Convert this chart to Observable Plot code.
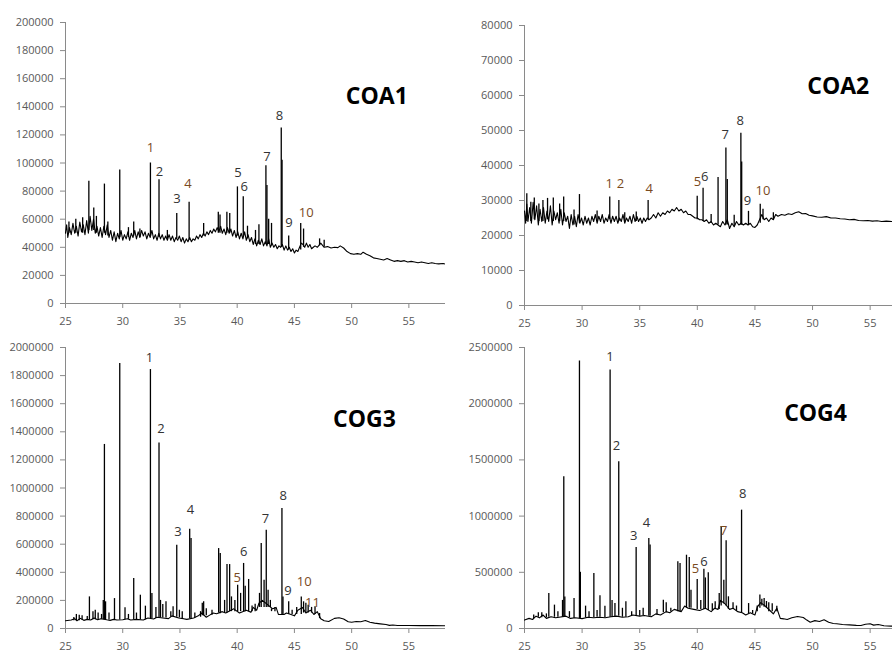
<!DOCTYPE html>
<html><head><meta charset="utf-8">
<script src="https://cdn.jsdelivr.net/npm/d3@7"></script>
<script src="https://cdn.jsdelivr.net/npm/@observablehq/plot@0.6"></script>
<style>
html,body{margin:0;padding:0;background:#fff;width:892px;height:652px;overflow:hidden;}
.panel{position:absolute;}
</style></head>
<body>
<div id="p1" class="panel" style="left:0;top:0"></div>
<div id="p2" class="panel" style="left:450px;top:0"></div>
<div id="p3" class="panel" style="left:0;top:330px"></div>
<div id="p4" class="panel" style="left:450px;top:330px"></div>
<script>
// ---------- shared ticks ----------
const xTicks = [25, 30, 35, 40, 45, 50, 55];
const coa1YTicks = [0, 20000, 40000, 60000, 80000, 100000, 120000, 140000, 160000, 180000, 200000];
const coa2YTicks = [0, 10000, 20000, 30000, 40000, 50000, 60000, 70000, 80000];
const cog3YTicks = [0, 200000, 400000, 600000, 800000, 1000000, 1200000, 1400000, 1600000, 1800000, 2000000];
const cog4YTicks = [0, 500000, 1000000, 1500000, 2000000, 2500000];

// ---------- COA1 ----------
const coa1Time = [25.0,25.1,25.2,25.35,25.5,25.65,25.8,25.95,26.1,26.25,26.4,26.55,26.7,26.85,27.0,27.15,27.3,27.45,27.6,27.75,27.9,28.05,28.2,28.35,28.5,28.65,28.8,28.95,29.1,29.25,29.4,29.55,29.7,29.85,30.0,30.15,30.3,30.45,30.6,30.75,30.9,31.05,31.2,31.35,31.5,31.65,31.8,31.95,32.1,32.25,32.4,32.55,32.7,32.85,33.0,33.15,33.3,33.45,33.6,33.75,33.9,34.05,34.2,34.35,34.5,34.65,34.8,34.95,35.1,35.25,35.4,35.55,35.7,35.85,36.0,36.15,36.3,36.45,36.6,36.75,36.9,37.05,37.2,37.35,37.5,37.65,37.8,37.95,38.1,38.25,38.4,38.55,38.7,38.85,39.0,39.15,39.3,39.45,39.6,39.75,39.9,40.05,40.2,40.35,40.5,40.65,40.8,40.95,41.1,41.25,41.4,41.55,41.7,41.85,42.0,42.15,42.3,42.45,42.6,42.75,42.9,43.05,43.2,43.35,43.5,43.65,43.8,43.95,44.1,44.25,44.4,44.55,44.7,44.85,45.0,45.15,45.3,45.45,45.6,45.75,45.9,46.05,46.2,46.35,46.5,46.65,46.8,47.0,47.3,47.6,47.9,48.2,48.5,48.8,49.0,49.3,49.6,49.9,50.2,50.5,50.8,51.0,51.3,51.6,51.9,52.2,52.5,52.8,53.1,53.4,53.7,54.0,54.3,54.6,54.9,55.2,55.5,55.8,56.1,56.4,56.7,57.0,57.3,57.6,58.0,58.2];
const coa1Signal = [50000,56000,47000,54000,49000,57000,50000,55000,48000,58000,51000,56000,49000,59000,50000,62000,52000,60000,50000,55000,48000,54000,47000,55000,49000,56000,47000,52000,45000,51000,44000,50000,46000,52000,45000,49000,46000,51000,45000,50000,47000,52000,46000,51000,47000,52000,48000,51000,46000,50000,47000,52000,46000,49000,45000,50000,46000,49000,45000,48000,45000,49000,45000,48000,44000,47000,45000,48000,44000,47000,43000,46000,44000,47000,44000,46000,45000,48000,46000,49000,47000,50000,48000,51000,49000,52000,50000,53000,51000,54000,51000,55000,50000,53000,49000,54000,50000,53000,48000,52000,47000,51000,46000,50000,46000,51000,45000,49000,44000,47000,42000,46000,41000,45000,42000,46000,41000,44000,41000,46000,40000,43000,40000,42000,39000,41000,40000,42000,38000,41000,38000,40000,37000,39000,36000,38000,37000,40000,43000,42000,40000,43000,40000,42000,39000,40000,41000,40000,43000,40000,40500,39500,40000,39800,41000,39500,37000,35500,35000,35500,35000,36500,35000,34000,32500,32000,31500,31000,32000,31000,30000,30500,30000,30500,29500,30000,29500,29000,29500,29000,28500,29000,28500,28200,28500,28000];
const coa1PeakTime = [25.3,25.9,26.5,27.04,27.47,27.7,28.4,28.7,29.74,30.5,30.96,31.5,32.42,33.17,33.9,34.72,35.8,37.07,38.35,38.5,39.1,39.35,40.02,40.53,40.9,41.6,41.9,42.51,42.6,42.75,43.0,43.85,43.92,44.5,45.55,45.8,47.2,47.6];
const coa1PeakTop  = [58000,60000,61000,87000,68000,62000,85000,58000,95000,54000,58000,53000,100000,88000,52000,64000,72000,57000,65000,63000,65000,64000,83000,76000,55000,52000,56000,98000,84000,60000,57000,125000,102000,48000,57000,53000,46000,45000];
const coa1PeakBase = [50000,50000,50000,52000,52000,50000,50000,48000,47000,47000,48000,47000,48000,47000,46000,46000,45000,48000,50000,50000,50000,50000,48000,47000,46000,42000,42000,42000,42000,42000,41000,40000,40000,38000,38000,40000,41000,40000];
const coa1LabelText = ["1","2","3","4","5","6","7","8","9","10"];
const coa1LabelTime = [32.42,33.2,34.74,35.7,40.07,40.62,42.6,43.7,44.52,46.03];
const coa1LabelLevel = [110500,93400,74500,85200,93000,83300,104100,133300,57200,64500];

// ---------- COA2 ----------
const coa2Time = [25.0,25.1,25.2,25.3,25.45,25.6,25.75,25.9,26.05,26.2,26.35,26.5,26.65,26.8,26.95,27.1,27.25,27.4,27.55,27.7,27.85,28.0,28.15,28.3,28.45,28.6,28.75,28.9,29.05,29.2,29.35,29.5,29.65,29.8,29.95,30.1,30.25,30.4,30.55,30.7,30.85,31.0,31.15,31.3,31.45,31.6,31.75,31.9,32.05,32.2,32.35,32.5,32.65,32.8,32.95,33.1,33.25,33.4,33.55,33.7,33.85,34.0,34.15,34.3,34.45,34.6,34.75,34.9,35.05,35.2,35.35,35.5,35.65,35.8,36.0,36.2,36.4,36.6,36.8,37.0,37.2,37.4,37.6,37.8,38.0,38.2,38.4,38.6,38.8,39.0,39.2,39.4,39.6,39.8,40.0,40.2,40.4,40.6,40.8,41.0,41.2,41.4,41.6,41.8,42.0,42.2,42.4,42.6,42.8,43.0,43.2,43.4,43.6,43.8,44.0,44.2,44.4,44.6,44.8,45.0,45.2,45.4,45.6,45.8,46.0,46.2,46.4,46.6,46.8,47.0,47.3,47.6,47.9,48.2,48.5,48.8,49.1,49.4,49.7,50.0,50.4,50.8,51.2,51.6,52.0,52.4,52.8,53.2,53.6,54.0,54.4,54.8,55.2,55.6,56.0,56.4,57.0];
const coa2Signal = [27000,23500,29000,24000,28000,23500,29500,24500,28500,23000,27500,24000,28000,23500,27000,24000,28500,23000,27000,24500,26500,23500,27500,23000,26500,24000,25500,22000,26000,23000,25500,22500,26000,23500,25000,23000,25500,23500,25000,23000,25500,24000,26000,23500,25500,24000,26000,23500,25000,24000,26000,23500,25500,24000,25500,23500,25000,24000,26000,23500,25000,24000,25500,23500,26000,24000,25500,24000,25000,23500,25000,24000,25000,24500,25000,26000,25000,26500,25500,26500,26000,27000,26500,27500,27000,28000,27000,27500,26500,27000,26000,26000,25500,25000,25000,24500,24500,24000,24500,23500,24000,23000,23500,23000,22500,24000,23000,24500,22000,23500,22500,24000,23000,23500,23000,23500,23000,23500,22500,22300,23000,24500,26000,24500,25000,24000,25000,24500,26000,25500,26000,25800,26200,26000,26500,26800,26200,26300,25800,25600,25300,25200,25400,25000,25000,24800,24700,24500,24600,24300,24200,24300,24100,24200,24000,24100,24000];
const coa2PeakTime = [25.2,25.55,25.85,26.25,26.6,27.0,27.5,28.05,28.4,29.3,29.77,31.3,32.4,33.19,33.7,34.7,35.73,39.99,40.5,41.2,41.8,42.48,42.6,43.2,43.78,43.85,44.44,45.46,45.7,46.6];
const coa2PeakTop  = [31900,29500,30700,29000,30000,30600,30700,29000,31000,27300,31700,27000,31000,30000,26500,26700,30000,31200,33500,26000,36600,45000,36000,25800,49200,41000,26900,28900,27500,26500];
const coa2PeakBase = [24000,24000,24500,24000,24000,24500,24000,24000,24000,23000,23500,24000,24500,24000,24000,24000,24500,24500,24000,23500,23000,23000,23000,22500,23000,23000,23000,23500,24500,24500];
const coa2LabelText = ["1","2","4","5","6","7","8","9","10"];
const coa2LabelTime = [32.35,33.33,35.82,40.02,40.65,42.42,43.72,44.36,45.69];
const coa2LabelLevel = [34900,34800,33300,35200,36900,48900,52700,30000,32700];

// ---------- COG3 ----------
const cog3Time = [25.0,25.5,25.8,26.0,26.3,26.6,26.9,27.2,27.5,27.8,28.1,28.6,28.9,29.2,29.5,30.0,30.4,30.7,31.2,31.8,32.2,32.7,33.0,33.5,34.0,34.3,34.9,35.3,35.6,36.2,36.6,36.9,37.3,37.6,37.9,38.2,38.7,39.0,39.7,40.2,40.8,41.2,41.4,41.7,41.9,42.2,42.8,43.1,43.4,43.6,44.1,44.3,44.7,45.0,45.3,45.7,46.0,46.4,46.7,47.0,47.3,47.6,48.0,48.5,48.9,49.3,49.7,50.0,50.4,50.8,51.2,51.6,52.0,52.5,53.0,53.3,53.6,54.0,55.0,56.0,57.0,58.2];
const cog3Signal = [55000,60000,70000,55000,72000,58000,65000,60000,75000,62000,70000,62000,58000,65000,60000,62000,70000,60000,65000,60000,75000,68000,80000,75000,70000,90000,75000,70000,65000,75000,90000,110000,80000,95000,110000,105000,120000,110000,140000,110000,130000,115000,150000,130000,180000,200000,160000,140000,150000,100000,100000,110000,100000,90000,130000,150000,110000,130000,100000,120000,70000,55000,50000,72000,76000,68000,48000,45000,50000,48000,57000,45000,38000,33000,28000,22000,25000,21000,21000,20500,20500,20000];
const cog3PeakTime = [25.73,25.95,26.2,26.45,26.9,27.09,27.4,27.6,27.85,28.15,28.3,28.4,28.5,28.8,29.28,29.74,30.2,30.5,30.96,31.2,31.54,31.98,32.42,32.55,32.9,33.17,33.3,33.5,33.78,34.2,34.4,34.72,34.95,35.2,35.85,35.97,36.3,36.8,36.95,37.07,37.3,37.8,38.38,38.52,38.9,39.11,39.34,39.5,39.8,40.04,40.3,40.56,40.7,41.0,41.3,41.57,41.95,42.1,42.35,42.54,42.7,42.9,43.0,43.3,43.91,44.0,44.5,44.8,45.2,45.6,45.8,46.0,46.2,46.5,46.8,47.2];
const cog3PeakTop  = [78000,100000,95000,90000,85000,225000,120000,130000,110000,100000,200000,1310000,190000,110000,213000,1886000,147000,100000,356000,110000,237000,159000,1843000,250000,150000,1321000,200000,170000,190000,120000,154000,593000,130000,120000,707000,640000,110000,120000,180000,190000,140000,130000,569000,534000,200000,455000,455000,225000,200000,308000,250000,463000,300000,349000,160000,173000,250000,605000,344000,700000,273000,200000,140000,150000,854000,225000,190000,130000,150000,225000,190000,180000,166000,150000,154000,107000];
const cog3PeakBase = [55000,55000,56000,58000,60000,60000,62000,62000,62000,65000,62000,62000,60000,60000,60000,60000,62000,65000,62000,62000,62000,62000,70000,70000,72000,75000,75000,75000,75000,80000,80000,80000,75000,70000,70000,70000,75000,80000,90000,90000,90000,95000,110000,105000,110000,110000,120000,120000,120000,120000,120000,120000,120000,120000,120000,120000,150000,150000,150000,150000,150000,150000,120000,120000,100000,100000,100000,100000,100000,100000,110000,110000,110000,110000,100000,70000];
const cog3LabelText = ["1","2","3","4","5","6","7","8","9","10","11"];
const cog3LabelTime = [32.33,33.35,34.83,35.91,40.01,40.56,42.48,44.02,44.43,45.86,46.58];
const cog3LabelLevel = [1924000,1421000,685000,847000,361000,543000,781000,947000,266000,330000,180000];

// ---------- COG4 ----------
const cog4Time = [25.0,25.4,25.7,26.0,26.3,26.6,26.9,27.3,27.7,28.0,28.6,29.0,29.4,30.0,30.5,31.0,31.5,32.0,32.5,33.0,33.5,34.0,34.4,35.0,35.4,36.0,36.4,36.8,37.3,37.6,38.0,38.6,38.9,39.2,39.7,40.2,40.7,41.2,41.5,41.8,42.0,42.4,42.8,43.1,43.5,43.9,44.2,44.6,45.0,45.2,45.5,45.9,46.3,46.6,46.9,47.2,47.5,47.8,48.2,48.7,49.2,49.5,49.8,50.2,50.6,51.0,51.4,51.8,52.1,52.6,53.2,53.8,54.2,54.6,55.0,55.3,55.7,56.2,56.8,57.0];
const cog4Signal = [75000,90000,80000,110000,95000,120000,90000,105000,95000,100000,110000,90000,95000,88000,100000,95000,100000,95000,105000,110000,100000,105000,120000,110000,115000,105000,130000,120000,150000,140000,170000,150000,200000,180000,170000,160000,180000,150000,180000,170000,250000,220000,170000,180000,150000,140000,120000,140000,120000,190000,230000,200000,160000,130000,180000,90000,86000,80000,95000,107000,98000,75000,56000,70000,62000,77000,55000,45000,42000,35000,32000,28000,27000,38000,42000,30000,35000,24000,21000,21000];
const cog4PeakTime = [25.8,26.2,26.5,26.9,27.11,27.6,27.9,28.3,28.41,28.5,28.9,29.3,29.77,29.85,30.3,30.6,31.02,31.3,31.55,31.98,32.43,32.6,32.85,33.18,33.5,33.8,34.3,34.69,35.0,35.3,35.79,35.9,36.5,37.05,37.3,37.7,38.31,38.5,39.06,39.3,39.45,39.99,40.3,40.57,40.7,40.95,41.3,41.55,41.9,42.07,42.3,42.5,42.7,43.1,43.4,43.84,44.45,44.8,45.2,45.43,45.6,45.8,46.0,46.2,46.5,46.9];
const cog4PeakTop  = [120000,140000,140000,130000,311000,208000,150000,250000,1350000,280000,150000,267000,2379000,500000,199000,150000,489000,160000,291000,199000,2299000,250000,222000,1483000,180000,237000,150000,721000,160000,180000,801000,742000,170000,252000,230000,180000,593000,578000,652000,632000,341000,436000,250000,528000,450000,495000,220000,237000,311000,905000,430000,780000,282000,230000,200000,1053000,222000,160000,200000,297000,260000,267000,240000,228000,220000,199000];
const cog4PeakBase = [90000,100000,95000,95000,100000,100000,100000,100000,100000,100000,95000,90000,90000,90000,95000,95000,95000,100000,100000,95000,100000,100000,105000,110000,100000,100000,110000,110000,110000,115000,110000,110000,120000,140000,140000,150000,150000,150000,180000,180000,180000,170000,170000,170000,170000,160000,160000,170000,170000,200000,220000,200000,170000,170000,150000,140000,130000,130000,150000,180000,200000,190000,180000,150000,150000,150000];
const cog4LabelText = ["1","2","3","4","5","6","7","8"];
const cog4LabelTime = [32.41,32.99,34.49,35.59,39.84,40.57,42.3,43.95];
const cog4LabelLevel = [2420000,1628000,821000,937000,531000,596000,872000,1198000];

// ---------- build ----------
const zip = (ts, vs) => ts.map((t, i) => ({t, v: vs[i]}));
const peaks = (ts, tops, bases) => ts.map((t, i) => ({t, top: tops[i], base: bases[i]}));
const labs = (txt, ts, vs) => txt.map((s, i) => ({s, t: ts[i], v: vs[i]}));

const brown = {COA1: ["1","4","10"], COA2: ["1","2","4","5","10"], COG3: ["5","10","11"], COG4: ["5","7"]};

function panel(el, cfg) {
  const axisColor = "#8a8a8a";
  const textColor = "#595959";
  const yMax = cfg.yTicks[cfg.yTicks.length - 1];
  const chart = Plot.plot({
    width: cfg.width, height: cfg.height,
    marginTop: cfg.mt, marginRight: cfg.mr, marginBottom: cfg.mb, marginLeft: cfg.ml,
    style: {fontFamily: "'Open Sans', sans-serif", fontSize: "11px", background: "white", overflow: "visible"},
    x: {domain: cfg.xDomain, axis: null},
    y: {domain: [0, yMax], axis: null},
    marks: [
      Plot.ruleX([cfg.xDomain[0]], {y1: 0, y2: yMax, stroke: axisColor, strokeWidth: 1}),
      Plot.ruleY([0], {stroke: axisColor, strokeWidth: 1}),
      Plot.axisY(cfg.yTicks, {tickSize: 5, tickPadding: 7, tickFormat: d => String(d), stroke: axisColor, fill: textColor, fontSize: 11, label: null}),
      Plot.axisX(xTicks, {tickSize: 5, tickPadding: 9, tickFormat: d => String(d), stroke: axisColor, fill: textColor, fontSize: 11, label: null}),
      Plot.line(cfg.signal, {x: "t", y: "v", stroke: "#000", strokeWidth: 1.1, clip: true}),
      Plot.ruleX(cfg.peaks, {x: "t", y1: "base", y2: "top", stroke: "#000", strokeWidth: 1.3, clip: true}),
      Plot.text(cfg.labels, {x: "t", y: "v", text: "s", fontSize: 13,
        fill: d => brown[cfg.title].includes(d.s) ? "#7a4a1e" : "#333333"}),
      Plot.text([cfg.title], {x: cfg.titleAt[0], y: cfg.titleAt[1], text: d => d, fontSize: 23, fontWeight: "bold", fill: "#000"})
    ]
  });
  document.getElementById(el).appendChild(chart);
}

panel("p1", {title: "COA1", width: 450, height: 330, mt: 22, mr: 5, mb: 27, ml: 65, xDomain: [25, 58.2],
  yTicks: coa1YTicks, signal: zip(coa1Time, coa1Signal), peaks: peaks(coa1PeakTime, coa1PeakTop, coa1PeakBase),
  labels: labs(coa1LabelText, coa1LabelTime, coa1LabelLevel), titleAt: [52.2, 147300]});
panel("p2", {title: "COA2", width: 442, height: 330, mt: 25, mr: 0, mb: 25, ml: 74, xDomain: [25, 56.94],
  yTicks: coa2YTicks, signal: zip(coa2Time, coa2Signal), peaks: peaks(coa2PeakTime, coa2PeakTop, coa2PeakBase),
  labels: labs(coa2LabelText, coa2LabelTime, coa2LabelLevel), titleAt: [52.23, 62600]});
panel("p3", {title: "COG3", width: 450, height: 322, mt: 17, mr: 5, mb: 24, ml: 65, xDomain: [25, 58.2],
  yTicks: cog3YTicks, signal: zip(cog3Time, cog3Signal), peaks: peaks(cog3PeakTime, cog3PeakTop, cog3PeakBase),
  labels: labs(cog3LabelText, cog3LabelTime, cog3LabelLevel), titleAt: [51.12, 1485000]});
panel("p4", {title: "COG4", width: 442, height: 322, mt: 17, mr: 0, mb: 24, ml: 74, xDomain: [25, 56.94],
  yTicks: cog4YTicks, signal: zip(cog4Time, cog4Signal), peaks: peaks(cog4PeakTime, cog4PeakTop, cog4PeakBase),
  labels: labs(cog4LabelText, cog4LabelTime, cog4LabelLevel), titleAt: [50.26, 1915000]});
</script>
</body></html>
